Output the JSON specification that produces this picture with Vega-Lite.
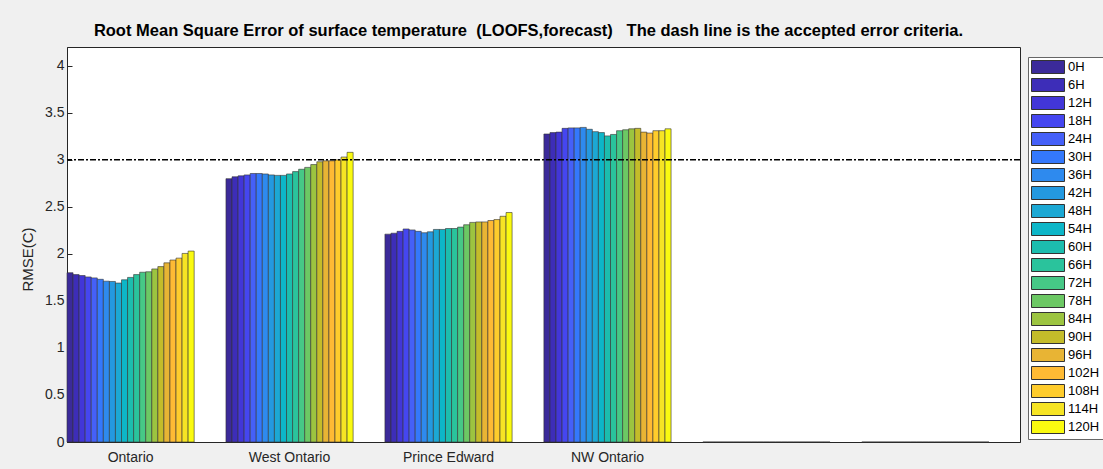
{
  "$schema": "https://vega.github.io/schema/vega-lite/v6.json",
  "autosize": {"type": "none"},
  "padding": {"left": 67, "top": 47, "right": 83, "bottom": 27},
  "width": 953,
  "height": 395,
  "background": "#F0F0F0",
  "title": {
    "text": "Root Mean Square Error of surface temperature \u00a0(LOOFS,forecast) \u00a0\u00a0The dash line is the accepted error criteria.",
    "font": "Liberation Sans",
    "fontSize": 16.5,
    "fontWeight": "bold",
    "color": "#000000",
    "anchor": "middle",
    "dx": -15,
    "offset": 8
  },
  "datasets": {
    "rmse": [
      {"region": "Ontario", "hour": "0H", "rmse": 1.80},
      {"region": "Ontario", "hour": "6H", "rmse": 1.78},
      {"region": "Ontario", "hour": "12H", "rmse": 1.77},
      {"region": "Ontario", "hour": "18H", "rmse": 1.755},
      {"region": "Ontario", "hour": "24H", "rmse": 1.745},
      {"region": "Ontario", "hour": "30H", "rmse": 1.73},
      {"region": "Ontario", "hour": "36H", "rmse": 1.71},
      {"region": "Ontario", "hour": "42H", "rmse": 1.707},
      {"region": "Ontario", "hour": "48H", "rmse": 1.69},
      {"region": "Ontario", "hour": "54H", "rmse": 1.725},
      {"region": "Ontario", "hour": "60H", "rmse": 1.75},
      {"region": "Ontario", "hour": "66H", "rmse": 1.78},
      {"region": "Ontario", "hour": "72H", "rmse": 1.805},
      {"region": "Ontario", "hour": "78H", "rmse": 1.81},
      {"region": "Ontario", "hour": "84H", "rmse": 1.84},
      {"region": "Ontario", "hour": "90H", "rmse": 1.865},
      {"region": "Ontario", "hour": "96H", "rmse": 1.905},
      {"region": "Ontario", "hour": "102H", "rmse": 1.935},
      {"region": "Ontario", "hour": "108H", "rmse": 1.955},
      {"region": "Ontario", "hour": "114H", "rmse": 2.005},
      {"region": "Ontario", "hour": "120H", "rmse": 2.03},
      {"region": "West Ontario", "hour": "0H", "rmse": 2.80},
      {"region": "West Ontario", "hour": "6H", "rmse": 2.82},
      {"region": "West Ontario", "hour": "12H", "rmse": 2.83},
      {"region": "West Ontario", "hour": "18H", "rmse": 2.84},
      {"region": "West Ontario", "hour": "24H", "rmse": 2.855},
      {"region": "West Ontario", "hour": "30H", "rmse": 2.855},
      {"region": "West Ontario", "hour": "36H", "rmse": 2.85},
      {"region": "West Ontario", "hour": "42H", "rmse": 2.84},
      {"region": "West Ontario", "hour": "48H", "rmse": 2.835},
      {"region": "West Ontario", "hour": "54H", "rmse": 2.835},
      {"region": "West Ontario", "hour": "60H", "rmse": 2.85},
      {"region": "West Ontario", "hour": "66H", "rmse": 2.875},
      {"region": "West Ontario", "hour": "72H", "rmse": 2.90},
      {"region": "West Ontario", "hour": "78H", "rmse": 2.92},
      {"region": "West Ontario", "hour": "84H", "rmse": 2.95},
      {"region": "West Ontario", "hour": "90H", "rmse": 2.98},
      {"region": "West Ontario", "hour": "96H", "rmse": 2.99},
      {"region": "West Ontario", "hour": "102H", "rmse": 2.99},
      {"region": "West Ontario", "hour": "108H", "rmse": 3.00},
      {"region": "West Ontario", "hour": "114H", "rmse": 3.03},
      {"region": "West Ontario", "hour": "120H", "rmse": 3.08},
      {"region": "Prince Edward", "hour": "0H", "rmse": 2.21},
      {"region": "Prince Edward", "hour": "6H", "rmse": 2.22},
      {"region": "Prince Edward", "hour": "12H", "rmse": 2.24},
      {"region": "Prince Edward", "hour": "18H", "rmse": 2.265},
      {"region": "Prince Edward", "hour": "24H", "rmse": 2.255},
      {"region": "Prince Edward", "hour": "30H", "rmse": 2.24},
      {"region": "Prince Edward", "hour": "36H", "rmse": 2.225},
      {"region": "Prince Edward", "hour": "42H", "rmse": 2.235},
      {"region": "Prince Edward", "hour": "48H", "rmse": 2.26},
      {"region": "Prince Edward", "hour": "54H", "rmse": 2.26},
      {"region": "Prince Edward", "hour": "60H", "rmse": 2.27},
      {"region": "Prince Edward", "hour": "66H", "rmse": 2.27},
      {"region": "Prince Edward", "hour": "72H", "rmse": 2.285},
      {"region": "Prince Edward", "hour": "78H", "rmse": 2.31},
      {"region": "Prince Edward", "hour": "84H", "rmse": 2.335},
      {"region": "Prince Edward", "hour": "90H", "rmse": 2.34},
      {"region": "Prince Edward", "hour": "96H", "rmse": 2.34},
      {"region": "Prince Edward", "hour": "102H", "rmse": 2.355},
      {"region": "Prince Edward", "hour": "108H", "rmse": 2.365},
      {"region": "Prince Edward", "hour": "114H", "rmse": 2.40},
      {"region": "Prince Edward", "hour": "120H", "rmse": 2.44},
      {"region": "NW Ontario", "hour": "0H", "rmse": 3.275},
      {"region": "NW Ontario", "hour": "6H", "rmse": 3.29},
      {"region": "NW Ontario", "hour": "12H", "rmse": 3.295},
      {"region": "NW Ontario", "hour": "18H", "rmse": 3.335},
      {"region": "NW Ontario", "hour": "24H", "rmse": 3.34},
      {"region": "NW Ontario", "hour": "30H", "rmse": 3.34},
      {"region": "NW Ontario", "hour": "36H", "rmse": 3.345},
      {"region": "NW Ontario", "hour": "42H", "rmse": 3.325},
      {"region": "NW Ontario", "hour": "48H", "rmse": 3.30},
      {"region": "NW Ontario", "hour": "54H", "rmse": 3.29},
      {"region": "NW Ontario", "hour": "60H", "rmse": 3.255},
      {"region": "NW Ontario", "hour": "66H", "rmse": 3.27},
      {"region": "NW Ontario", "hour": "72H", "rmse": 3.31},
      {"region": "NW Ontario", "hour": "78H", "rmse": 3.32},
      {"region": "NW Ontario", "hour": "84H", "rmse": 3.33},
      {"region": "NW Ontario", "hour": "90H", "rmse": 3.335},
      {"region": "NW Ontario", "hour": "96H", "rmse": 3.295},
      {"region": "NW Ontario", "hour": "102H", "rmse": 3.285},
      {"region": "NW Ontario", "hour": "108H", "rmse": 3.31},
      {"region": "NW Ontario", "hour": "114H", "rmse": 3.31},
      {"region": "NW Ontario", "hour": "120H", "rmse": 3.33},
      {"region": "G5", "hour": "0H", "rmse": 0},
      {"region": "G5", "hour": "6H", "rmse": 0},
      {"region": "G5", "hour": "12H", "rmse": 0},
      {"region": "G5", "hour": "18H", "rmse": 0},
      {"region": "G5", "hour": "24H", "rmse": 0},
      {"region": "G5", "hour": "30H", "rmse": 0},
      {"region": "G5", "hour": "36H", "rmse": 0},
      {"region": "G5", "hour": "42H", "rmse": 0},
      {"region": "G5", "hour": "48H", "rmse": 0},
      {"region": "G5", "hour": "54H", "rmse": 0},
      {"region": "G5", "hour": "60H", "rmse": 0},
      {"region": "G5", "hour": "66H", "rmse": 0},
      {"region": "G5", "hour": "72H", "rmse": 0},
      {"region": "G5", "hour": "78H", "rmse": 0},
      {"region": "G5", "hour": "84H", "rmse": 0},
      {"region": "G5", "hour": "90H", "rmse": 0},
      {"region": "G5", "hour": "96H", "rmse": 0},
      {"region": "G5", "hour": "102H", "rmse": 0},
      {"region": "G5", "hour": "108H", "rmse": 0},
      {"region": "G5", "hour": "114H", "rmse": 0},
      {"region": "G5", "hour": "120H", "rmse": 0},
      {"region": "G6", "hour": "0H", "rmse": 0},
      {"region": "G6", "hour": "6H", "rmse": 0},
      {"region": "G6", "hour": "12H", "rmse": 0},
      {"region": "G6", "hour": "18H", "rmse": 0},
      {"region": "G6", "hour": "24H", "rmse": 0},
      {"region": "G6", "hour": "30H", "rmse": 0},
      {"region": "G6", "hour": "36H", "rmse": 0},
      {"region": "G6", "hour": "42H", "rmse": 0},
      {"region": "G6", "hour": "48H", "rmse": 0},
      {"region": "G6", "hour": "54H", "rmse": 0},
      {"region": "G6", "hour": "60H", "rmse": 0},
      {"region": "G6", "hour": "66H", "rmse": 0},
      {"region": "G6", "hour": "72H", "rmse": 0},
      {"region": "G6", "hour": "78H", "rmse": 0},
      {"region": "G6", "hour": "84H", "rmse": 0},
      {"region": "G6", "hour": "90H", "rmse": 0},
      {"region": "G6", "hour": "96H", "rmse": 0},
      {"region": "G6", "hour": "102H", "rmse": 0},
      {"region": "G6", "hour": "108H", "rmse": 0},
      {"region": "G6", "hour": "114H", "rmse": 0},
      {"region": "G6", "hour": "120H", "rmse": 0}
    ],
    "criteria": [{"limit": 3}]
  },
  "layer": [
    {
      "data": {"name": "rmse"},
      "mark": {"type": "bar", "stroke": "#333333", "strokeWidth": 0.6, "opacity": 1},
      "encoding": {
        "x": {
          "field": "region",
          "type": "nominal",
          "sort": null,
          "scale": {
            "domain": ["Ontario", "West Ontario", "Prince Edward", "NW Ontario", "G5", "G6"],
            "paddingInner": 0.2,
            "paddingOuter": 0.0975,
            "align": 0
          },
          "axis": {
            "title": null,
            "values": ["Ontario", "West Ontario", "Prince Edward", "NW Ontario"],
            "labelAngle": 0,
            "labelFont": "Liberation Sans",
            "labelFontSize": 14,
            "labelColor": "#262626",
            "labelPadding": 13,
            "tickSize": -5,
            "tickColor": "#262626",
            "domainColor": "#262626",
            "grid": false
          }
        },
        "xOffset": {
          "field": "hour",
          "type": "nominal",
          "sort": null,
          "scale": {
            "domain": ["0H","6H","12H","18H","24H","30H","36H","42H","48H","54H","60H","66H","72H","78H","84H","90H","96H","102H","108H","114H","120H"],
            "paddingInner": 0,
            "paddingOuter": 0
          }
        },
        "y": {
          "field": "rmse",
          "type": "quantitative",
          "scale": {"domain": [0, 4.2], "nice": false, "zero": true},
          "axis": {
            "title": "RMSE(C)",
            "titleFont": "Liberation Sans",
            "titleFontSize": 15,
            "titleFontWeight": "normal",
            "titleColor": "#262626",
            "titlePadding": 9,
            "titleY": 212,
            "values": [0, 0.5, 1, 1.5, 2, 2.5, 3, 3.5, 4],
            "format": "~g",
            "labelFont": "Liberation Sans",
            "labelFontSize": 14,
            "labelColor": "#262626",
            "labelPadding": 8,
            "tickSize": -5,
            "tickColor": "#262626",
            "domainColor": "#262626",
            "grid": false
          }
        },
        "color": {
          "field": "hour",
          "type": "nominal",
          "sort": null,
          "scale": {
            "domain": ["0H","6H","12H","18H","24H","30H","36H","42H","48H","54H","60H","66H","72H","78H","84H","90H","96H","102H","108H","114H","120H"],
            "range": ["#3B2A9A","#3D2DB8","#4236D8","#4546F0","#4560F8","#3478FC","#2E8AEE","#2499E0","#1CA8D4","#0DB6C8","#1CBDAE","#2AC39C","#46C886","#6CC864","#9CC440","#C4BC2A","#E8B434","#FFBA34","#FFCC2C","#F6E424","#FAFA10"]
          },
          "legend": {
            "title": null,
            "orient": "none",
            "legendX": 961,
            "legendY": 10,
            "direction": "vertical",
            "fillColor": "#FFFFFF",
            "strokeColor": "#666666",
            "padding": 3,
            "symbolType": "M-1,-1H4.077V1H-1Z",
            "symbolSize": 169,
            "symbolStrokeColor": "#333333",
            "symbolStrokeWidth": 1,
            "symbolOpacity": 1,
            "rowPadding": 0,
            "labelFont": "Liberation Sans",
            "labelFontSize": 13,
            "labelColor": "#000000",
            "labelOffset": 23,
            "labelLimit": 40
          }
        }
      }
    },
    {
      "data": {"name": "criteria"},
      "mark": {"type": "rule", "color": "#000000", "strokeWidth": 1.5, "strokeDash": [6, 2, 2, 2]},
      "encoding": {
        "y": {"field": "limit", "type": "quantitative"}
      }
    }
  ],
  "config": {
    "view": {"stroke": "#262626", "strokeWidth": 1, "fill": "#FFFFFF"}
  }
}
